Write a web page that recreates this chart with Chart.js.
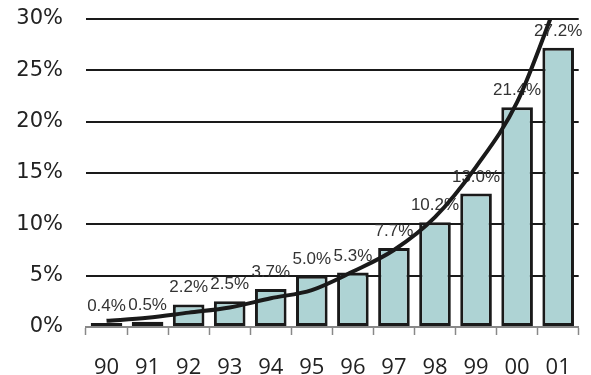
<!DOCTYPE html>
<html>
<head>
<meta charset="utf-8">
<script src="https://cdn.jsdelivr.net/npm/chart.js@4"></script>
<style>
  html, body { margin: 0; padding: 0; background: #fff; }
  #wrap { width: 591px; height: 375px; }
</style>
</head>
<body>
<div id="wrap"><canvas id="chart" width="591" height="375"></canvas></div>
<script>
// ========================== DATA ==========================
const years = ["90", "91", "92", "93", "94", "95", "96", "97", "98", "99", "00", "01"];
const shares = [0.4, 0.5, 2.2, 2.5, 3.7, 5.0, 5.3, 7.7, 10.2, 13.0, 21.4, 27.2];
// trend curve (runs past the top, clipped)
const trend = [0.6, 0.9, 1.4, 1.9, 2.8, 3.6, 5.4, 7.5, 10.7, 15.6, 21.9, 32];
const yTicks = [0, 5, 10, 15, 20, 25, 30];

// ========================== LABELS PLUGIN ==========================
// draws the % labels over the bars, before the trend line goes on top
const barLabels = {
  id: "barLabels",
  afterDatasetDraw(chart, args) {
    if (args.index !== 0) return;
    const ctx = chart.ctx;
    ctx.save();
    ctx.font = "17px 'Liberation Sans', Arial, sans-serif";
    ctx.fillStyle = "#333";
    ctx.textAlign = "center";
    ctx.textBaseline = "alphabetic";
    args.meta.data.forEach((bar, i) => {
      ctx.fillText(shares[i].toFixed(1) + "%", bar.x, bar.y - 12);
    });
    ctx.restore();
  }
};

// ========================== CHART ==========================
new Chart(document.getElementById("chart"), {
  type: "bar",
  data: {
    labels: years,
    datasets: [
      {
        type: "bar",
        data: shares,
        backgroundColor: "#aed3d4",
        borderColor: "#1a1a1a",
        borderWidth: 3,
        borderSkipped: false,
        barPercentage: 0.77,
        categoryPercentage: 1,
        order: 2
      },
      {
        type: "line",
        data: trend,
        borderColor: "#1a1a1a",
        borderWidth: 4,
        pointRadius: 0,
        cubicInterpolationMode: "monotone",
        fill: false,
        order: 1
      }
    ]
  },
  options: {
    responsive: false,
    animation: false,
    layout: { padding: { top: 19, right: 6, left: 0, bottom: 0 } },
    plugins: {
      legend: { display: false },
      tooltip: { enabled: false }
    },
    scales: {
      x: {
        offset: true,
        grid: {
          offset: true,
          drawOnChartArea: false,
          drawTicks: true,
          tickLength: 8,
          tickWidth: 1.5,
          tickColor: "#888"
        },
        border: { display: true, color: "#888", width: 2 },
        ticks: {
          padding: 20,
          color: "#222",
          font: { family: "'Open Sans', sans-serif", size: 22 }
        },
        afterFit(scale) { scale.height = 48; }
      },
      y: {
        min: 0,
        max: 30,
        afterBuildTicks(scale) {
          scale.ticks = yTicks.map(v => ({ value: v }));
        },
        grid: {
          drawTicks: false,
          lineWidth: 2,
          color: c => (c.tick && c.tick.value === 0 ? "#888" : "#1a1a1a")
        },
        border: { display: false },
        ticks: {
          padding: 23,
          color: "#222",
          font: { family: "'DejaVu Sans', sans-serif", size: 21 },
          callback: v => v + "%"
        },
        afterFit(scale) {
          scale.width = 86;
          scale.paddingTop = 0;
          scale.paddingBottom = 0;
        }
      }
    }
  },
  plugins: [barLabels]
});
</script>
</body>
</html>
